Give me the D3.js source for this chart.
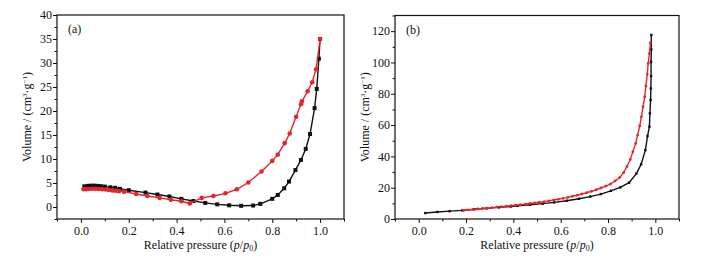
<!DOCTYPE html>
<html>
<head>
<meta charset="utf-8">
<script src="https://cdn.jsdelivr.net/npm/d3@7"></script>
<style>
  body { margin: 0; background: #fff; }
  svg { display: block; }
  svg text { font-family: "Liberation Serif", "Times New Roman", Times, serif !important; fill: #111; }
</style>
</head>
<body>
<div id="chart"></div>
<script>
// panel (a): relative pressure / volume
const aBlackX = [0.014, 0.028, 0.042, 0.056, 0.07, 0.083, 0.1, 0.123, 0.143, 0.163, 0.2, 0.27, 0.32, 0.37, 0.42, 0.47, 0.52, 0.57, 0.62, 0.67, 0.72, 0.75, 0.80, 0.823, 0.85, 0.87, 0.897, 0.92, 0.94, 0.958, 0.977, 0.986, 0.995, 1.0];
const aBlackY = [4.3, 4.4, 4.45, 4.45, 4.4, 4.35, 4.25, 4.1, 4.0, 3.8, 3.5, 3.0, 2.6, 2.2, 1.7, 1.25, 0.85, 0.55, 0.35, 0.25, 0.3, 0.65, 1.7, 2.5, 3.9, 5.3, 7.7, 9.8, 12.1, 15.2, 20.6, 24.6, 30.9, 35];
const aRedX = [0.011, 0.022, 0.033, 0.047, 0.061, 0.075, 0.089, 0.103, 0.117, 0.131, 0.145, 0.159, 0.18, 0.231, 0.278, 0.329, 0.376, 0.42, 0.455, 0.505, 0.554, 0.604, 0.652, 0.70, 0.755, 0.80, 0.823, 0.852, 0.873, 0.9, 0.92, 0.924, 0.948, 0.967, 0.983, 1.0];
const aRedY = [3.7, 3.7, 3.75, 3.8, 3.8, 3.75, 3.7, 3.65, 3.55, 3.45, 3.4, 3.3, 3.2, 2.7, 2.3, 1.9, 1.5, 1.2, 0.75, 1.9, 2.3, 2.85, 3.7, 5.1, 7.4, 9.6, 10.9, 13.3, 15.3, 18.8, 21.4, 22.0, 24.1, 26.0, 28.7, 35];

// panel (b)
const bBlackX = [0.028, 0.079, 0.131, 0.184, 0.236, 0.287, 0.34, 0.39, 0.418, 0.47, 0.524, 0.572, 0.626, 0.677, 0.725, 0.77, 0.812, 0.852, 0.889, 0.92, 0.94, 0.958, 0.967, 0.975, 0.977, 0.98, 0.981, 0.982, 0.982, 0.983, 0.983];
const bBlackY = [3.8, 4.5, 5.0, 5.5, 6.2, 6.8, 7.4, 8.0, 8.4, 9.1, 9.8, 10.6, 11.7, 12.9, 14.3, 15.9, 18.0, 20.2, 23.2, 29.0, 35, 44, 53, 59, 67.5, 76, 83.4, 91.3, 100.4, 108.3, 117.6];
const bRedX = [0.19, 0.21, 0.23, 0.25, 0.27, 0.29, 0.31, 0.33, 0.35, 0.37, 0.39, 0.41, 0.43, 0.45, 0.47, 0.49, 0.51, 0.53, 0.55, 0.57, 0.59, 0.61, 0.63, 0.65, 0.67, 0.69, 0.71, 0.73, 0.75, 0.77, 0.79, 0.81, 0.83, 0.85, 0.866, 0.88, 0.894, 0.905, 0.917, 0.925, 0.934, 0.941, 0.948, 0.955, 0.96, 0.966, 0.97, 0.975, 0.979];
const bRedY = [5.5, 5.8, 6.1, 6.4, 6.7, 7.0, 7.3, 7.6, 7.9, 8.2, 8.5, 8.8, 9.1, 9.5, 9.9, 10.3, 10.7, 11.1, 11.6, 12.1, 12.6, 13.2, 13.8, 14.5, 15.2, 16.0, 16.8, 17.7, 18.7, 19.8, 21.0, 22.3, 24.3, 26.6, 29.6, 33.4, 38, 43, 48.3, 53.6, 59.4, 65.3, 71.7, 78, 84.9, 92.6, 99.4, 105.7, 112.6];

const xTicks = [0.0, 0.2, 0.4, 0.6, 0.8, 1.0];
const xMinor = [-0.1, 0.1, 0.3, 0.5, 0.7, 0.9, 1.1];
const aYTicks = [0, 5, 10, 15, 20, 25, 30, 35, 40];
const aYMinor = [-2.5, 2.5, 7.5, 12.5, 17.5, 22.5, 27.5, 32.5, 37.5];
const bYTicks = [0, 20, 40, 60, 80, 100, 120];
const bYMinor = [10, 30, 50, 70, 90, 110, 130];

const RED = "#e3262d";
const FS = 12;

const svg = d3.select("#chart").append("svg")
    .attr("width", 718)
    .attr("height", 258);

function zip(xs, ys) {
    return xs.map((x, i) => [x, ys[i]]);
}

function drawPanel(p) {
    let x = d3.scaleLinear().domain([-0.1, 1.1]).range([p.left, p.right]);
    let y = d3.scaleLinear().domain(p.yDomain).range([p.bottom, p.top]);

    let g = svg.append("g");

    // minor ticks first, then majors with labels
    g.append("g")
        .attr("transform", `translate(0,${p.bottom})`)
        .call(d3.axisBottom(x).tickValues(xMinor).tickSize(2.5).tickFormat(""))
        .call(a => a.select(".domain").remove());
    g.append("g")
        .attr("transform", `translate(0,${p.bottom})`)
        .call(d3.axisBottom(x).tickValues(xTicks).tickSize(4).tickPadding(3).tickFormat(d3.format(".1f")))
        .call(a => a.select(".domain").remove())
        .call(a => a.selectAll("text").attr("font-size", FS));

    g.append("g")
        .attr("transform", `translate(${p.left},0)`)
        .call(d3.axisLeft(y).tickValues(p.yMinor).tickSize(2.5).tickFormat(""))
        .call(a => a.select(".domain").remove());
    g.append("g")
        .attr("transform", `translate(${p.left},0)`)
        .call(d3.axisLeft(y).tickValues(p.yTicks).tickSize(4).tickPadding(1))
        .call(a => a.select(".domain").remove())
        .call(a => a.selectAll("text").attr("font-size", FS));

    g.selectAll(".tick line").attr("stroke", "#111").attr("stroke-width", 1);

    let clipId = "clip-" + p.name;
    svg.append("clipPath").attr("id", clipId)
        .append("rect")
        .attr("x", p.left).attr("y", p.top)
        .attr("width", p.right - p.left).attr("height", p.bottom - p.top);

    let plot = g.append("g").attr("clip-path", `url(#${clipId})`);
    let line = d3.line().x(d => x(d[0])).y(d => y(d[1]));

    let black = zip(p.blackX, p.blackY);
    let red = zip(p.redX, p.redY);

    plot.append("path")
        .datum(black)
        .attr("fill", "none")
        .attr("stroke", "#111")
        .attr("stroke-width", 1.4)
        .attr("d", line);
    plot.selectAll(".sq")
        .data(black)
        .join("rect")
        .attr("class", "sq")
        .attr("x", d => x(d[0]) - p.sq / 2)
        .attr("y", d => y(d[1]) - p.sq / 2)
        .attr("width", p.sq)
        .attr("height", p.sq)
        .attr("fill", "#111");

    plot.append("path")
        .datum(red)
        .attr("fill", "none")
        .attr("stroke", RED)
        .attr("stroke-width", 1.4)
        .attr("d", line);
    plot.selectAll(".dot")
        .data(red)
        .join("circle")
        .attr("class", "dot")
        .attr("cx", d => x(d[0]))
        .attr("cy", d => y(d[1]))
        .attr("r", p.r)
        .attr("fill", RED);

    // frame
    g.append("rect")
        .attr("x", p.left).attr("y", p.top)
        .attr("width", p.right - p.left).attr("height", p.bottom - p.top)
        .attr("fill", "none")
        .attr("stroke", "#111")
        .attr("stroke-width", 1.2);

    g.append("text")
        .attr("x", p.left + 11)
        .attr("y", p.top + 18)
        .attr("font-size", FS)
        .text(p.label);

    // axis titles
    let xt = g.append("text")
        .attr("x", (p.left + p.right) / 2)
        .attr("y", 249)
        .attr("text-anchor", "middle")
        .attr("font-size", FS);
    xt.append("tspan").text("Relative pressure (");
    xt.append("tspan").attr("font-style", "italic").text("p");
    xt.append("tspan").text("/");
    xt.append("tspan").attr("font-style", "italic").text("p");
    xt.append("tspan").attr("font-size", 8).attr("dy", 2).text("0");
    xt.append("tspan").attr("dy", -2).text(")");

    let yt = g.append("text")
        .attr("transform", `translate(${p.yTitleX},${(p.top + p.bottom) / 2}) rotate(-90)`)
        .attr("text-anchor", "middle")
        .attr("font-size", FS);
    yt.append("tspan").text("Volume / (cm");
    yt.append("tspan").attr("font-size", 7).attr("dy", -4).text("3");
    yt.append("tspan").attr("dy", 4).text("·g");
    yt.append("tspan").attr("font-size", 7).attr("dy", -4).text("−1");
    yt.append("tspan").attr("dy", 4).text(")");
}

drawPanel({
    name: "a", label: "(a)",
    left: 57, right: 344, top: 15, bottom: 219,
    yDomain: [-2.5, 40], yTicks: aYTicks, yMinor: aYMinor,
    blackX: aBlackX, blackY: aBlackY, redX: aRedX, redY: aRedY,
    sq: 4, r: 2.3, yTitleX: 31
});

drawPanel({
    name: "b", label: "(b)",
    left: 395, right: 679, top: 15.5, bottom: 219,
    yDomain: [0, 130], yTicks: bYTicks, yMinor: bYMinor,
    blackX: bBlackX, blackY: bBlackY, redX: bRedX, redY: bRedY,
    sq: 2.4, r: 1.4, yTitleX: 369
});
</script>
</body>
</html>
